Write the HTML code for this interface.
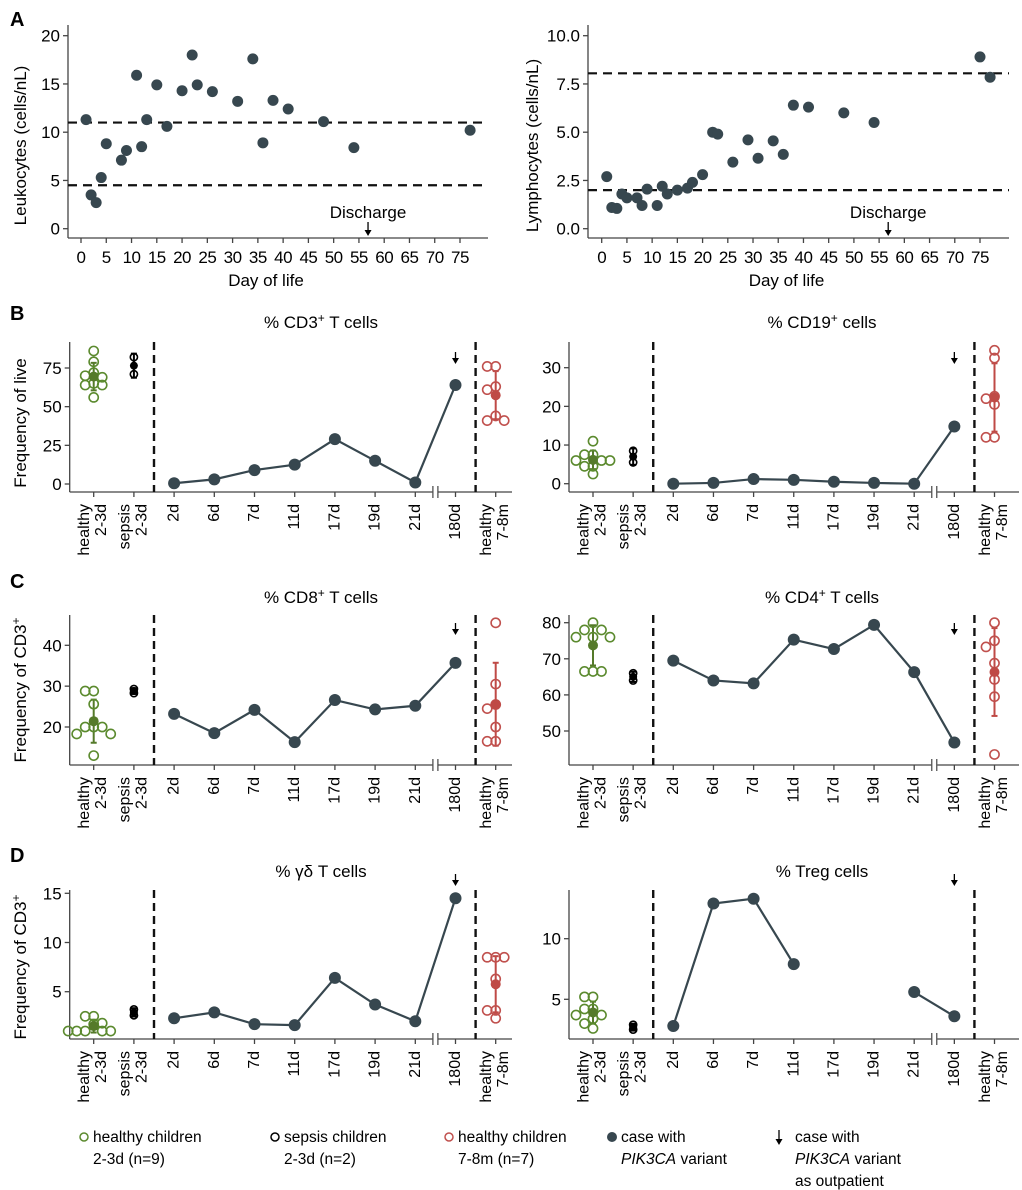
<!DOCTYPE html>
<html><head><meta charset="utf-8"><style>
html,body{margin:0;padding:0;background:#fff}
svg{display:block;font-family:"Liberation Sans",Arial,sans-serif}
</style></head><body>
<svg id="fig" width="1022" height="1190" viewBox="0 0 1022 1190" xmlns="http://www.w3.org/2000/svg"></svg>
<script>
// ---------- Panel A data ----------
const leukDays = [1,2,3,4,5,8,9,11,12,13,15,17,20,22,23,26,31,34,36,38,41,48,54,77];
const leukVals = [11.3,3.5,2.7,5.3,8.8,7.1,8.1,15.9,8.5,11.3,14.9,10.6,14.3,18.0,14.9,14.2,13.2,17.6,8.9,13.3,12.4,11.1,8.4,10.2];
const lymphDays = [1,2,3,4,5,7,8,9,11,12,13,15,17,18,20,22,23,26,29,31,34,36,38,41,48,54,75,77];
const lymphVals = [2.7,1.1,1.05,1.8,1.6,1.6,1.2,2.05,1.2,2.2,1.8,2.0,2.1,2.4,2.8,5.0,4.9,3.45,4.6,3.65,4.55,3.85,6.4,6.3,6.0,5.5,8.9,7.85];
const leukRefs = [11,4.5];
const lymphRefs = [8.05,2.0];
const dayTicks = [0,5,10,15,20,25,30,35,40,45,50,55,60,65,70,75];
const leukTicks = [0,5,10,15,20];
const lymphTicks = ["0.0","2.5","5.0","7.5","10.0"];
const dischargeDay = 56.8;

// ---------- Panels B-D data ----------
const timeCats = ["2d","6d","7d","11d","17d","19d","21d","180d"];
const cd3Healthy = [86,79,72,70,69,65,64,64,56];
const cd3Sepsis = [82,71];
const cd3Infant = [76,76,63,61,44,41,41];
const cd3Case = [0.5,3,9,12.5,29,15,1,64];
const cd19Healthy = [11,7.5,7.5,6,6,6,4.5,4.5,2.5];
const cd19Sepsis = [8.5,5.5];
const cd19Infant = [34.5,32.5,22.6,22,20.5,12,12];
const cd19Case = [0,0.2,1.2,1,0.5,0.2,0,14.8];
const cd8Healthy = [28.8,28.8,25.6,20,20,20,18.3,18.3,13.0];
const cd8Sepsis = [29.3,28.3];
const cd8Infant = [45.5,30.5,25.5,24.5,20,16.5,16.5];
const cd8Case = [23.2,18.5,24.2,16.3,26.6,24.3,25.2,35.7];
const cd4Healthy = [80,78,78,76,76,76,66.5,66.5,66.5];
const cd4Sepsis = [66,64];
const cd4Infant = [80,75,73.3,68.8,64.3,59.5,43.5];
const cd4Case = [69.5,64,63.2,75.3,72.7,79.4,66.3,46.8];
const gdHealthy = [2.5,2.5,1.8,1.7,1.0,1.0,1.0,1.0,1.0];
const gdSepsis = [3.2,2.6];
const gdInfant = [8.5,8.5,8.5,6.3,3.1,3.1,2.3];
const gdCase = [2.3,2.9,1.7,1.6,6.4,3.7,2.0,14.5];
const tregHealthy = [5.2,5.2,4.2,4.2,3.7,3.7,3.4,3.0,2.6];
const tregSepsis = [2.9,2.5];
const tregInfant = [];
const tregCase = [2.8,12.9,13.3,7.9,null,null,5.6,3.6];
const cd3Ticks = [0,25,50,75];
const cd19Ticks = [0,10,20,30];
const cd8Ticks = [20,30,40];
const cd4Ticks = [50,60,70,80];
const gdTicks = [5,10,15];
const tregTicks = [5,10];

const NS = "http://www.w3.org/2000/svg";
const svg = document.getElementById("fig");
const CASE = "#37474f", GREEN = "#5b8a2e", GREENF = "#557a2a", RED = "#c0504d", REDF = "#bf4a46", AX = "#444";
const FS = 17;
function el(tag, attrs, parent, text){
  const e = document.createElementNS(NS, tag);
  for (const k in attrs) e.setAttribute(k, attrs[k]);
  if (text !== undefined) e.textContent = text;
  (parent||svg).appendChild(e);
  return e;
}
function linear(v0,p0,v1,p1){ return v => p0 + (v - v0) * (p1 - p0) / (v1 - v0); }
function arrow(x, y1, y2, parent){
  el("line",{x1:x,y1:y1,x2:x,y2:y2-4,stroke:"#000","stroke-width":1.3},parent);
  el("path",{d:`M${x-3.5},${y2-6} L${x},${y2} L${x+3.5},${y2-6} Z`,fill:"#000"},parent);
}

[["A",10,26],["B",10,320],["C",10,588],["D",10,862]].forEach(p=>{
  const t = el("text",{x:p[1],y:p[2],"font-size":20,"font-weight":"bold"},svg,p[0]);
  
  
});

function scatterPanel(name, ax, days, vals, refs, yticks, ytickVals, ylabel){
  const g = el("g",{});
  
  
  const x = linear(0, ax.x0, 75, ax.x75);
  const y = linear(ax.vA, ax.yA, ax.vB, ax.yB);
  el("line",{x1:ax.left,y1:ax.top,x2:ax.left,y2:ax.bottom,stroke:AX,"stroke-width":1.3},g);
  el("line",{x1:ax.left,y1:ax.bottom,x2:ax.right,y2:ax.bottom,stroke:AX,"stroke-width":1.3},g);
  ytickVals.forEach((v,i)=>{
    el("line",{x1:ax.left-5,y1:y(v),x2:ax.left,y2:y(v),stroke:AX,"stroke-width":1.3},g);
    const t = el("text",{x:ax.left-8,y:y(v)+6,"font-size":FS,"text-anchor":"end"},g,yticks[i]);
    
    
  });
  dayTicks.forEach(d=>{
    el("line",{x1:x(d),y1:ax.bottom,x2:x(d),y2:ax.bottom+5,stroke:AX,"stroke-width":1.3},g);
    const t = el("text",{x:x(d),y:ax.bottom+25,"font-size":FS,"text-anchor":"middle","letter-spacing":"-0.5"},g,String(d));
    
    
  });
  const xt = el("text",{x:(ax.left+ax.right)/2 - 12,y:ax.bottom+48,"font-size":FS,"text-anchor":"middle"},g,"Day of life");
  
  
  const yl = el("text",{x:0,y:0,"font-size":FS,"text-anchor":"middle",transform:`translate(${ax.ylabX},${(ax.top+ax.bottom)/2+14}) rotate(-90)`},g,ylabel);
  
  
  refs.forEach(r=>{
    const l = el("line",{x1:ax.left,y1:y(r),x2:ax.right,y2:y(r),stroke:"#111","stroke-width":2.2,"stroke-dasharray":"9,6"},g);
    
    
  });
  days.forEach((d,i)=>{
    const c = el("circle",{cx:x(d),cy:y(vals[i]),r:5.5,fill:CASE},g);
    
    
  });
  const dx = x(dischargeDay);
  const dt = el("text",{x:dx,y:ax.bottom-20,"font-size":FS,"text-anchor":"middle"},g,"Discharge");
  
  
  arrow(dx, ax.bottom-16, ax.bottom-2, g);
}
scatterPanel("leukocyte-chart",{left:68,right:488,top:25,bottom:238,x0:81,x75:460,vA:0,yA:228.7,vB:20,yB:35.7,ylabX:26},
  leukDays,leukVals,leukRefs,leukTicks.map(String),leukTicks,"Leukocytes (cells/nL)");
scatterPanel("lymphocyte-chart",{left:588,right:1009,top:25,bottom:238,x0:601.7,x75:980,vA:0,yA:228.7,vB:10,yB:35.7,ylabX:538},
  lymphDays,lymphVals,lymphRefs,lymphTicks,[0,2.5,5,7.5,10],"Lymphocytes (cells/nL)");

function mean(a){ return a.reduce((s,v)=>s+v,0)/a.length; }
function sd(a){ const m=mean(a); return Math.sqrt(a.reduce((s,v)=>s+(v-m)*(v-m),0)/Math.max(1,a.length-1)); }
function swarm(vals, y, cx, d){
  const placed = [];
  const sorted = vals.slice().sort((a,b)=>b-a);
  return sorted.map(v=>{
    const py = y(v);
    const cands = [0,-d,d,-2*d,2*d,-3*d,3*d];
    let ox = 0;
    for (const c of cands){
      if (placed.every(p => Math.hypot(p[0]-(cx+c), p[1]-py) >= d*0.9)){ ox = c; break; }
    }
    placed.push([cx+ox,py]);
    return [cx+ox,py];
  });
}
function groupMarks(g, vals, y, cx, stroke, fill, name, tight){
  if (!vals.length) return;
  const m = mean(vals), s = sd(vals);
  el("line",{x1:cx,y1:y(m-s),x2:cx,y2:y(m+s),stroke:fill,"stroke-width":2},g);
  el("line",{x1:cx-3,y1:y(m-s),x2:cx+3,y2:y(m-s),stroke:fill,"stroke-width":2},g);
  el("line",{x1:cx-3,y1:y(m+s),x2:cx+3,y2:y(m+s),stroke:fill,"stroke-width":2},g);
  const pts = tight ? vals.map(v=>[cx,y(v)]) : swarm(vals,y,cx,8.5);
  pts.forEach(p=>{
    const c = el("circle",{cx:p[0],cy:p[1],r:tight?3.6:4.6,fill:"none",stroke:stroke,"stroke-width":1.6},g);
    
    
  });
  const mc = el("circle",{cx:cx,cy:y(m),r:tight?4:5,fill:fill},g);
  
  
}
function rotLabel(g, x, yTop, txt){
  const t = el("text",{x:0,y:0,"font-size":16,"text-anchor":"end","dominant-baseline":"central",transform:`translate(${x},${yTop}) rotate(-90)`},g,txt);
  
  
}
function timePanel(name, P, title, ylabel, ticks, healthy, sepsis, infant, cases, arrowTop){
  const g = el("g",{});
  
  
  const y = linear(P.vA, P.yA, P.vB, P.yB);
  const cat = i => P.cx0 + i * P.step;
  el("line",{x1:P.left,y1:P.top,x2:P.left,y2:P.bottom,stroke:AX,"stroke-width":1.3},g);
  el("line",{x1:P.left,y1:P.bottom,x2:P.right,y2:P.bottom,stroke:AX,"stroke-width":1.3},g);
  ticks.forEach(v=>{
    el("line",{x1:P.left-5,y1:y(v),x2:P.left,y2:y(v),stroke:AX,"stroke-width":1.3},g);
    const t = el("text",{x:P.left-8,y:y(v)+6,"font-size":FS,"text-anchor":"end"},g,String(v));
    
    
  });
  for (let i=0;i<11;i++) el("line",{x1:cat(i),y1:P.bottom,x2:cat(i),y2:P.bottom+5,stroke:AX,"stroke-width":1.3},g);
  const lt = P.bottom + 12;
  rotLabel(g, cat(0)-9, lt, "healthy"); rotLabel(g, cat(0)+8, lt, "2-3d");
  rotLabel(g, cat(1)-9, lt, "sepsis"); rotLabel(g, cat(1)+8, lt, "2-3d");
  timeCats.forEach((c,i)=> rotLabel(g, cat(i+2), lt, c));
  rotLabel(g, cat(10)-9, lt, "healthy"); rotLabel(g, cat(10)+8, lt, "7-8m");
  const bx = (cat(8)+cat(9))/2;
  el("rect",{x:bx-3,y:P.bottom-4,width:6,height:8,fill:"#fff"},g);
  el("line",{x1:bx-2.5,y1:P.bottom-6,x2:bx-2.5,y2:P.bottom+6,stroke:AX,"stroke-width":1.2},g);
  el("line",{x1:bx+2.5,y1:P.bottom-6,x2:bx+2.5,y2:P.bottom+6,stroke:AX,"stroke-width":1.2},g);
  [(cat(1)+cat(2))/2,(cat(9)+cat(10))/2].forEach(dx=>{
    const l = el("line",{x1:dx,y1:P.top,x2:dx,y2:P.bottom,stroke:"#111","stroke-width":2.4,"stroke-dasharray":"8,5"},g);
    
    
  });
  const tt = el("text",{x:P.titleX,y:P.titleY,"font-size":FS,"text-anchor":"middle"},g,"");
  
  
  title.forEach(part=>{
    el("tspan",part.sup?{"font-size":12,dy:-6}:(part.down?{dy:6}:{}),tt,part.t);
  });
  if (ylabel){
    const yl = el("text",{x:0,y:0,"font-size":FS,"text-anchor":"middle",transform:`translate(${P.ylabX},${P.ylabY}) rotate(-90)`},g,"");
    
    
    ylabel.forEach(part=> el("tspan",part.sup?{"font-size":12,dy:-6}:{},yl,part.t));
  }
  groupMarks(g, healthy, y, cat(0), GREEN, GREENF, "healthy-newborn", false);
  groupMarks(g, sepsis, y, cat(1), "#000", "#000", "sepsis-newborn", true);
  groupMarks(g, infant, y, cat(10), RED, REDF, "healthy-infant", false);
  let seg = [];
  const flush = ()=>{ if (seg.length>1){ const p = el("polyline",{points:seg.map(s=>s.join(",")).join(" "),fill:"none",stroke:CASE,"stroke-width":2.2},g);   } seg=[]; };
  cases.forEach((v,i)=>{ if (v===null){ flush(); } else seg.push([cat(i+2),y(v)]); });
  flush();
  cases.forEach((v,i)=>{
    if (v===null) return;
    const c = el("circle",{cx:cat(i+2),cy:y(v),r:6,fill:CASE},g);
    
    
  });
  arrow(cat(9), arrowTop, arrowTop+12, g);
}
const LEFT = {left:69.7,right:512,cx0:93.7,step:40.2,titleX:321,ylabX:26};
const RIGHT = {left:569,right:1019,cx0:593,step:40.15,titleX:822,ylabX:540};
const T = (a,b)=>[{t:a},{t:"+",sup:true},{t:b,down:true}];
timePanel("cd3-chart",Object.assign({},LEFT,{top:342,bottom:492,vA:0,yA:484,vB:75,yB:368,titleY:328,ylabY:423}),
  T("% CD3"," T cells"),[{t:"Frequency of live"}],cd3Ticks,cd3Healthy,cd3Sepsis,cd3Infant,cd3Case,352);
timePanel("cd19-chart",Object.assign({},RIGHT,{top:342,bottom:492,vA:0,yA:483.7,vB:30,yB:367.7,titleY:328}),
  T("% CD19"," cells"),null,cd19Ticks,cd19Healthy,cd19Sepsis,cd19Infant,cd19Case,352);
timePanel("cd8-chart",Object.assign({},LEFT,{top:615,bottom:765,vA:20,yA:727,vB:40,yB:645.3,titleY:603,ylabY:690}),
  T("% CD8"," T cells"),[{t:"Frequency of CD3"},{t:"+",sup:true}],cd8Ticks,cd8Healthy,cd8Sepsis,cd8Infant,cd8Case,623);
timePanel("cd4-chart",Object.assign({},RIGHT,{top:615,bottom:765,vA:50,yA:731,vB:80,yB:622.7,titleY:603}),
  T("% CD4"," T cells"),null,cd4Ticks,cd4Healthy,cd4Sepsis,cd4Infant,cd4Case,623);
timePanel("gamma-delta-chart",Object.assign({},LEFT,{top:890,bottom:1039,vA:5,yA:991.7,vB:15,yB:893.3,titleY:877,ylabY:967}),
  [{t:"% γδ T cells"}],[{t:"Frequency of CD3"},{t:"+",sup:true}],gdTicks,gdHealthy,gdSepsis,gdInfant,gdCase,874);
timePanel("treg-chart",Object.assign({},RIGHT,{top:890,bottom:1039,vA:5,yA:999.3,vB:10,yB:938.7,titleY:877}),
  [{t:"% Treg cells"}],null,tregTicks,tregHealthy,tregSepsis,tregInfant,tregCase,874);

const lg = el("g",{});


function legendEntry(name, mark, x, lines){
  const g = el("g",{},lg);
  
  
  mark(g);
  lines.forEach((ln,i)=>{
    const t = el("text",{x:x,y:1142+i*22,"font-size":15.5},g,"");
    ln.forEach(p=> el("tspan",p.i?{"font-style":"italic"}:{},t,p.t));
  });
}
legendEntry("legend-healthy-newborn", g=>el("circle",{cx:84,cy:1137,r:4,fill:"none",stroke:GREEN,"stroke-width":1.5},g), 93,
  [[{t:"healthy children"}],[{t:"2-3d (n=9)"}]]);
legendEntry("legend-sepsis-newborn", g=>el("circle",{cx:275,cy:1137,r:4,fill:"none",stroke:"#000","stroke-width":1.5},g), 284,
  [[{t:"sepsis children"}],[{t:"2-3d (n=2)"}]]);
legendEntry("legend-healthy-infant", g=>el("circle",{cx:449,cy:1137,r:4,fill:"none",stroke:RED,"stroke-width":1.5},g), 458,
  [[{t:"healthy children"}],[{t:"7-8m (n=7)"}]]);
legendEntry("legend-case", g=>el("circle",{cx:612,cy:1137,r:5,fill:CASE},g), 621,
  [[{t:"case with"}],[{t:"PIK3CA",i:true},{t:" variant"}]]);
legendEntry("legend-outpatient", g=>arrow(779,1130,1145,g), 795,
  [[{t:"case with"}],[{t:"PIK3CA",i:true},{t:" variant"}],[{t:"as outpatient"}]]);
</script>
</body></html>
